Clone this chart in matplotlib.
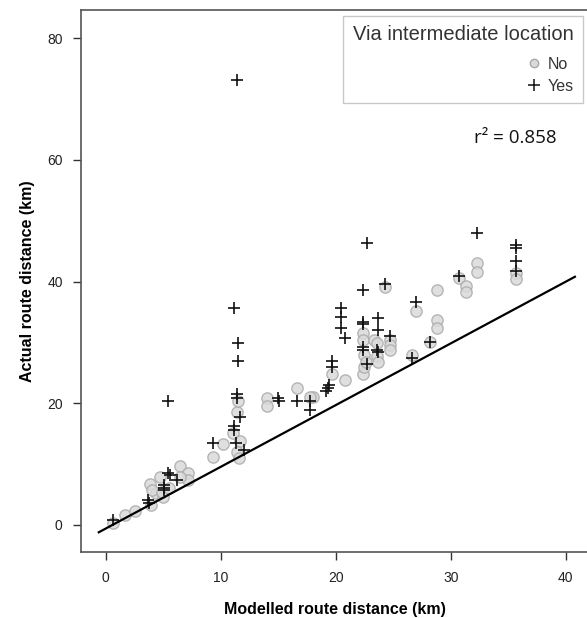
import matplotlib
matplotlib.use("Agg")
import matplotlib.pyplot as plt
from matplotlib.lines import Line2D

plt.rcParams['font.family'] = ['Liberation Sans', 'DejaVu Sans']

# "No" (not via intermediate location) points
no_x = [0.66, 1.7, 2.55, 3.9, 4.4, 3.85, 4.0, 5.0, 4.9, 5.5, 4.7, 6.5, 7.2, 7.2, 6.5,
        9.3, 10.2, 11.1, 11.4, 11.5, 11.7, 11.4, 11.6, 14.0, 14.0, 16.6, 18.05, 17.8,
        19.7, 20.8, 22.4, 22.5, 22.4, 22.4, 23.3, 23.6, 24.7, 24.7, 24.7, 22.5, 23.6,
        23.7, 22.6, 24.3, 26.6, 27.0, 28.2, 28.8, 28.8, 28.8, 30.7, 31.3, 31.3, 32.3,
        32.3, 35.65, 35.65]
no_y = [0.3, 1.6, 2.35, 3.3, 5.2, 6.7, 5.75, 4.65, 5.5, 6.0, 7.9, 9.7, 8.5, 7.4, 7.9,
        11.1, 13.3, 15.1, 18.6, 20.3, 13.8, 12.0, 11.0, 20.8, 19.5, 22.5, 21.1, 21.1,
        24.9, 23.8, 24.8, 26.0, 31.5, 30.4, 30.4, 29.9, 30.4, 29.6, 28.8, 27.9, 27.7,
        26.8, 26.8, 39.2, 27.9, 35.2, 30.0, 38.6, 33.7, 32.4, 40.6, 39.3, 38.3, 43.0,
        41.6, 41.4, 40.4]

# "Yes" (via intermediate location) points
yes_x = [0.6, 3.7, 3.8, 5.1, 5.1, 5.05, 5.4, 5.6, 6.2, 5.4, 9.3, 11.3, 12.0, 11.2,
         11.15, 11.7, 11.4, 11.4, 11.5, 11.5, 11.2, 11.4, 15.0, 15.1, 16.6, 17.8, 17.8,
         19.2, 19.4, 19.3, 19.7, 19.7, 20.5, 20.5, 20.5, 20.8, 22.4, 22.75, 22.4, 22.4,
         23.7, 23.7, 22.4, 22.4, 23.6, 23.7, 22.7, 24.7, 24.3, 26.6, 27.0, 28.2, 30.7,
         32.3, 35.65, 35.65, 35.65, 35.65]
yes_y = [0.8, 4.1, 3.6, 6.6, 6.0, 5.75, 8.6, 8.2, 7.4, 20.3, 13.4, 13.5, 12.3, 16.2,
         15.6, 17.8, 21.6, 20.8, 27.0, 29.9, 35.6, 73.2, 20.8, 20.3, 20.3, 20.3, 18.9,
         22.0, 23.0, 22.5, 27.0, 26.0, 35.7, 34.2, 32.3, 30.7, 38.6, 46.3, 33.4, 33.0,
         34.0, 32.05, 29.3, 28.8, 28.8, 28.5, 26.4, 31.0, 39.6, 27.5, 36.7, 30.0, 40.9,
         48.0, 46.0, 45.6, 43.4, 41.8]

# Reference line end points
line_x = [-0.6, 40.8]
line_y = [-1.2, 40.8]

x_ticks = [0, 10, 20, 30, 40]
y_ticks = [0, 20, 40, 60, 80]

fig = plt.figure(figsize=(5.87, 6.18), dpi=100)
ax = fig.add_axes([0.1375, 0.1073, 0.8654, 0.8765])

ax.scatter(no_x, no_y, s=66, facecolor='#dadada', edgecolor='#ababab',
           linewidth=1.0, alpha=0.85, zorder=2)
ax.scatter(yes_x, yes_y, s=70, marker='+', color='#111111', linewidth=1.2, zorder=3)
ax.plot(line_x, line_y, color='black', linewidth=1.6, zorder=4)

ax.set_xlim(-2.17, 42.0)
ax.set_ylim(-4.39, 84.65)
ax.set_xticks(x_ticks)
ax.set_yticks(y_ticks)
ax.tick_params(axis='both', direction='out', length=6, width=1.0, color='#333333',
               labelsize=10, labelcolor='#222222')
ax.tick_params(axis='x', pad=8)
ax.tick_params(axis='y', pad=7)
for sp in ax.spines.values():
    sp.set_color('#555555')
    sp.set_linewidth(1.2)

ax.set_xlabel('Modelled route distance (km)', fontsize=11.5, fontweight='bold', labelpad=12)
ax.set_ylabel('Actual route distance (km)', fontsize=11.5, fontweight='bold', labelpad=9)

handles = [
    Line2D([], [], marker='o', linestyle='none', markersize=6, markerfacecolor='#dadada',
           markeredgecolor='#a8a8a8', label='No'),
    Line2D([], [], marker='+', linestyle='none', markersize=8, color='#111111',
           markeredgewidth=1.1, label='Yes'),
]
leg = ax.legend(handles=handles, title='Via intermediate location', loc='upper right',
                alignment='right', fontsize=11.5, title_fontsize=14.5, frameon=True,
                fancybox=False, edgecolor='#bbbbbb', borderaxespad=0.35,
                handletextpad=0.35, handlelength=1.0, labelspacing=0.45,
                borderpad=0.6)
leg._legend_box.sep = 9
leg.get_frame().set_linewidth(1.0)
for t in leg.get_texts():
    t.set_color('#333333')
leg.get_title().set_color('#333333')

ax.text(0.9376, 0.764, 'r² = 0.858', transform=ax.transAxes, ha='right', va='center',
        fontsize=13.5, family=['Open Sans', 'DejaVu Sans'], color='#111111')

fig.savefig('out.png', dpi=100)
